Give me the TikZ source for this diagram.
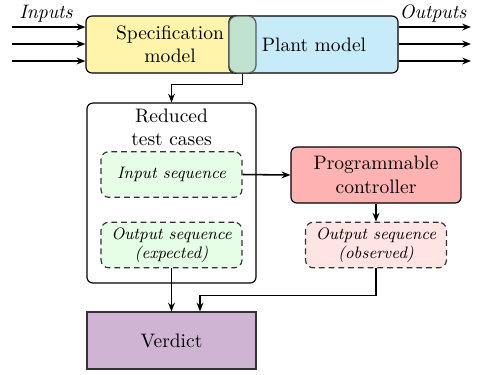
\documentclass[tikz,border=0pt]{standalone}
\usetikzlibrary{arrows.meta,calc}

\definecolor{specyellow}{RGB}{255,244,170}
\definecolor{plantblue}{RGB}{200,235,250}
\definecolor{overlapgreen}{RGB}{190,226,205}
\definecolor{seqgreen}{RGB}{230,253,230}
\definecolor{ctrlred}{RGB}{255,178,178}
\definecolor{obsred}{RGB}{255,228,228}
\definecolor{verdictpurple}{RGB}{207,180,212}

\begin{document}
\begin{tikzpicture}[
    x=0.513pt, y=-0.513pt,
    block/.style={draw=black, semithick, rounded corners=3pt, align=center, inner sep=0pt},
    seqbox/.style={draw=black!80, semithick, dash pattern=on 3pt off 2pt, rounded corners=4pt,
      fill=seqgreen, align=center, minimum width=72.3pt, minimum height=23.4pt, inner sep=0pt,
      font=\fontsize{8.5}{10}\selectfont\itshape},
    arrow/.style={thick, -{Stealth[length=4.5pt,width=3.5pt]}}
  ]
  \useasboundingbox (0,0) rectangle (479,374);

  % top row: the two models
  \node[block, fill=specyellow, minimum width=87.2pt, minimum height=29.2pt] (spec) at (171,44.5) {};
  \node[block, fill=plantblue, minimum width=86.7pt, minimum height=29.2pt] (plant) at (313.5,44.5) {};
  \node[block, draw=black!65, rounded corners=4pt, fill=overlapgreen, minimum width=13.9pt, minimum height=29.2pt] (overlap) at (242.5,44.5) {};
  \node[align=center] (spectext) at (170,44.5) {Specification\\model};
  \node (planttext) at (314,44.5) {Plant model};

  \node (inlabel) at (46,14) {\itshape Inputs};
  \node (outlabel) at (433,14) {\itshape Outputs};
  \foreach \i/\y in {1/27,2/44,3/61} {
    \coordinate (in\i) at (12,\y);
    \coordinate (out\i) at (471,\y);
    \draw[arrow] (in\i) -- (in\i -| spec.west);
    \draw[arrow] (plant.east |- out\i) -- (out\i);
  }

  % test cases
  \node[block, minimum width=86.7pt, minimum height=92.3pt] (reduced) at (171.5,193) {};
  \node[align=center] (title) at (171.5,127.5) {Reduced\\test cases};
  \node[seqbox] (input) at (171.5,174.5) {Input sequence};
  \node[seqbox] (expected) at (171.5,245) {Output sequence\\(expected)};

  % controller
  \node[block, fill=ctrlred, minimum width=87.2pt, minimum height=28.7pt] (ctrl) at (376,175) {Programmable\\controller};
  \node[seqbox, fill=obsred] (observed) at (376,245) {Output sequence\\(observed)};

  \node[draw=black!80, semithick, fill=verdictpurple, minimum width=86.7pt, minimum height=29.2pt] (verdict) at (171.5,340.5) {Verdict};

  \draw[arrow] (overlap.south) -- ++(0,11) -| (reduced.north);
  \draw[arrow] (input.east) -- (ctrl.west);
  \draw[arrow] (ctrl.south) -- (observed.north);
  \draw[arrow] (expected.south) -- (expected.south |- verdict.north);
  \draw[arrow] (observed.south) -- ++(0,27) -| ($(verdict.north)+(28.5,0)$);
\end{tikzpicture}
\end{document}
